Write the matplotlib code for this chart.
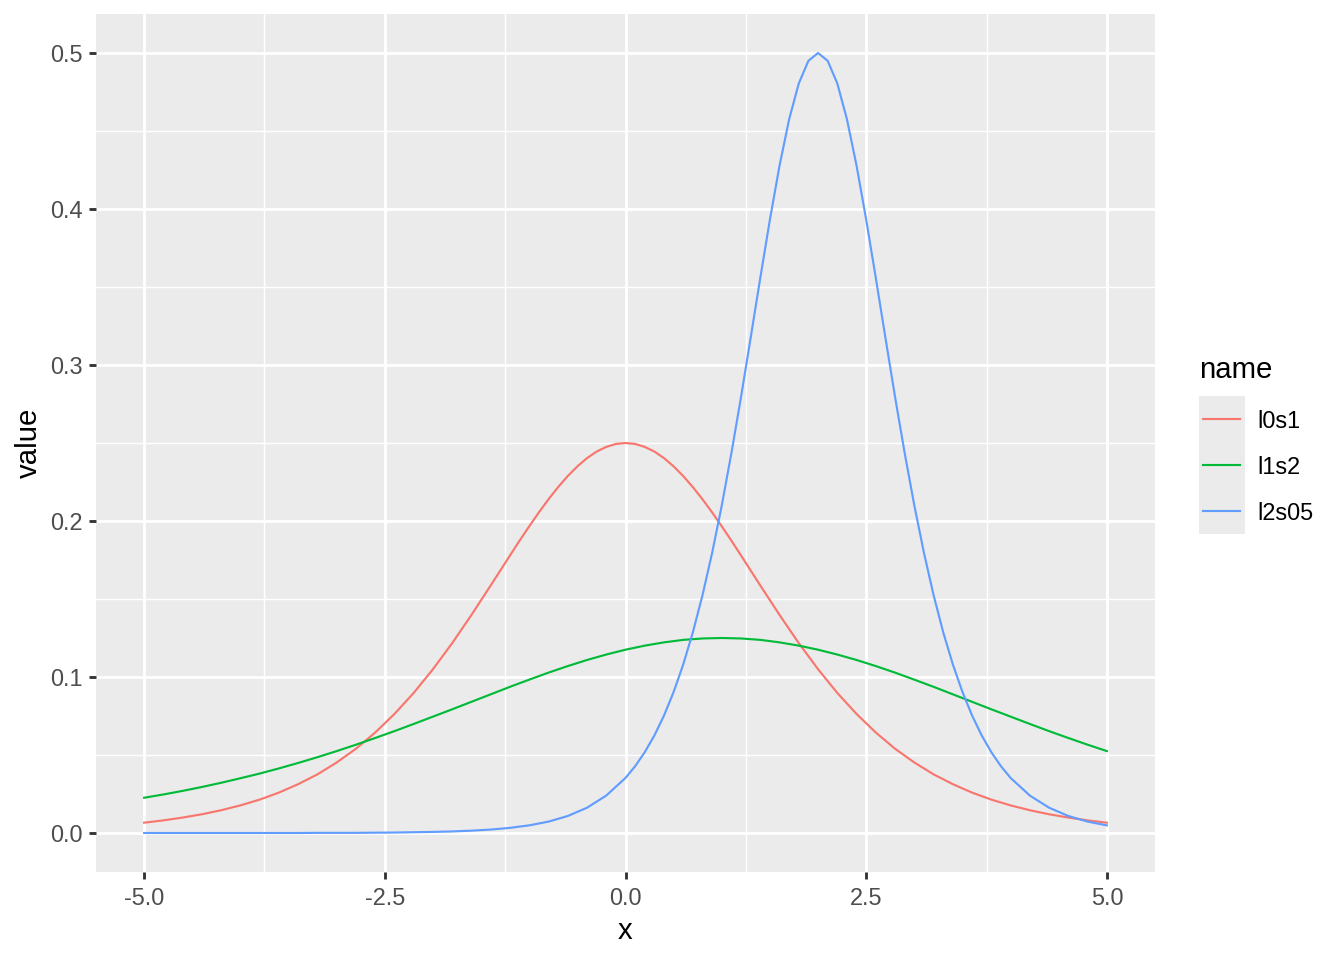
import matplotlib.pyplot as plt
from matplotlib.patches import Rectangle
from matplotlib.lines import Line2D

plt.rcParams['font.family'] = ['Liberation Sans', 'DejaVu Sans']

x_l0s1 = [-5.0, -4.8, -4.6, -4.4, -4.2, -4.0, -3.8, -3.6, -3.4, -3.2,
          -3.0, -2.8, -2.6, -2.4, -2.2, -2.0, -1.8, -1.6, -1.4, -1.2,
          -1.1, -1.0, -0.9, -0.8, -0.7, -0.6, -0.5, -0.4, -0.3, -0.2, -0.1,
          0.0, 0.1, 0.2, 0.3, 0.4, 0.5, 0.6, 0.7, 0.8, 0.9, 1.0, 1.1,
          1.2, 1.4, 1.6, 1.8, 2.0, 2.2, 2.4, 2.6, 2.8,
          3.0, 3.2, 3.4, 3.6, 3.8, 4.0, 4.2, 4.4, 4.6, 4.8, 5.0]
l0s1 = [0.0066, 0.0081, 0.0099, 0.0120, 0.0146, 0.0177, 0.0214, 0.0259, 0.0313, 0.0376,
        0.0452, 0.0540, 0.0644, 0.0763, 0.0898, 0.1050, 0.1217, 0.1398, 0.1587, 0.1779,
        0.1874, 0.1966, 0.2055, 0.2139, 0.2217, 0.2288, 0.2350, 0.2403, 0.2445, 0.2475, 0.2494,
        0.2500, 0.2494, 0.2475, 0.2445, 0.2403, 0.2350, 0.2288, 0.2217, 0.2139, 0.2055, 0.1966, 0.1874,
        0.1779, 0.1587, 0.1398, 0.1217, 0.1050, 0.0898, 0.0763, 0.0644, 0.0540,
        0.0452, 0.0376, 0.0313, 0.0259, 0.0214, 0.0177, 0.0146, 0.0120, 0.0099, 0.0081, 0.0066]

x_l1s2 = [-5.0, -4.8, -4.6, -4.4, -4.2, -4.0, -3.8, -3.6, -3.4, -3.2,
          -3.0, -2.8, -2.6, -2.4, -2.2, -2.0, -1.8, -1.6, -1.4, -1.2,
          -1.0, -0.8, -0.6, -0.4, -0.2, 0.0, 0.2, 0.4, 0.6, 0.8,
          1.0, 1.2, 1.4, 1.6, 1.8, 2.0, 2.2, 2.4, 2.6, 2.8,
          3.0, 3.2, 3.4, 3.6, 3.8, 4.0, 4.2, 4.4, 4.6, 4.8, 5.0]
l1s2 = [0.0226, 0.0247, 0.0270, 0.0295, 0.0322, 0.0351, 0.0381, 0.0414, 0.0449, 0.0486,
        0.0525, 0.0566, 0.0609, 0.0653, 0.0699, 0.0746, 0.0793, 0.0841, 0.0889, 0.0937,
        0.0983, 0.1028, 0.1070, 0.1109, 0.1144, 0.1175, 0.1201, 0.1222, 0.1238, 0.1247,
        0.1250, 0.1247, 0.1238, 0.1222, 0.1201, 0.1175, 0.1144, 0.1109, 0.1070, 0.1028,
        0.0983, 0.0937, 0.0889, 0.0841, 0.0793, 0.0746, 0.0699, 0.0653, 0.0609, 0.0566, 0.0525]

x_l2s05 = [-5.0, -4.8, -4.6, -4.4, -4.2, -4.0, -3.8, -3.6, -3.4, -3.2,
           -3.0, -2.8, -2.6, -2.4, -2.2, -2.0, -1.8, -1.6, -1.4, -1.2,
           -1.0, -0.8, -0.6, -0.4, -0.2,
           0.0, 0.1, 0.2, 0.3, 0.4, 0.5, 0.6, 0.7, 0.8, 0.9,
           1.0, 1.1, 1.2, 1.3, 1.4, 1.5, 1.6, 1.7, 1.8, 1.9,
           2.0, 2.1, 2.2, 2.3, 2.4, 2.5, 2.6, 2.7, 2.8, 2.9,
           3.0, 3.1, 3.2, 3.3, 3.4, 3.5, 3.6, 3.7, 3.8, 3.9,
           4.0, 4.2, 4.4, 4.6, 4.8, 5.0]
l2s05 = [0.0000, 0.0000, 0.0000, 0.0000, 0.0000, 0.0000, 0.0000, 0.0000, 0.0000, 0.0001,
         0.0001, 0.0001, 0.0002, 0.0003, 0.0005, 0.0007, 0.0010, 0.0015, 0.0022, 0.0033,
         0.0049, 0.0073, 0.0109, 0.0162, 0.0240,
         0.0353, 0.0428, 0.0518, 0.0625, 0.0753, 0.0904, 0.1081, 0.1287, 0.1525, 0.1796,
         0.2100, 0.2435, 0.2795, 0.3174, 0.3558, 0.3932, 0.4278, 0.4576, 0.4805, 0.4950,
         0.5000, 0.4950, 0.4805, 0.4576, 0.4278, 0.3932, 0.3558, 0.3174, 0.2795, 0.2435,
         0.2100, 0.1796, 0.1525, 0.1287, 0.1081, 0.0904, 0.0753, 0.0625, 0.0518, 0.0428,
         0.0353, 0.0240, 0.0162, 0.0109, 0.0073, 0.0049]

names = ['l0s1', 'l1s2', 'l2s05']
colors = ['#F8766D', '#00BA38', '#619CFF']
xs = [x_l0s1, x_l1s2, x_l2s05]
series = [l0s1, l1s2, l2s05]

x_ticks = [-5.0, -2.5, 0.0, 2.5, 5.0]
x_minor = [-3.75, -1.25, 1.25, 3.75]
y_ticks = [0.0, 0.1, 0.2, 0.3, 0.4, 0.5]
y_minor = [0.05, 0.15, 0.25, 0.35, 0.45]

W, H = 1344, 960
fig = plt.figure(figsize=(7, 5), dpi=192)


def fx(px):
    return px / W


def fy(py):
    return 1 - py / H


ax = fig.add_axes([fx(96), fy(872), fx(1155) - fx(96), fy(14) - fy(872)])
ax.set_facecolor('#EBEBEB')
for s in ax.spines.values():
    s.set_visible(False)

for v in x_minor:
    ax.axvline(v, color='white', lw=0.53, zorder=0)
for v in y_minor:
    ax.axhline(v, color='white', lw=0.53, zorder=0)
for v in x_ticks:
    ax.axvline(v, color='white', lw=1.07, zorder=0)
for v in y_ticks:
    ax.axhline(v, color='white', lw=1.07, zorder=0)

for name, col, xv, ys in zip(names, colors, xs, series):
    ax.plot(xv, ys, color=col, lw=0.8, label=name, zorder=2)

ax.set_xlim(-5.5, 5.5)
ax.set_ylim(-0.025, 0.525)
ax.set_xticks(x_ticks)
ax.set_xticklabels(['-5.0', '-2.5', '0.0', '2.5', '5.0'])
ax.set_yticks(y_ticks)
ax.set_yticklabels(['0.0', '0.1', '0.2', '0.3', '0.4', '0.5'])
ax.tick_params(axis='both', length=2.75, width=1.07, color='#333333',
               labelcolor='#4D4D4D', labelsize=8.8, pad=2.2)
ax.tick_params(axis='x', pad=2.8)
ax.set_xlabel('x', fontsize=11, labelpad=2.75)
ax.set_ylabel('value', fontsize=11, labelpad=2.75)

# legend drawn ggplot-style: grey key boxes, labels on white
fig.text(fx(1199), fy(370), 'name', fontsize=11, va='center', ha='left')
fig.patches.append(Rectangle((fx(1199), fy(534)), fx(1245) - fx(1199), fy(396) - fy(534),
                             transform=fig.transFigure, facecolor='#EBEBEB', edgecolor='none'))
for i, (name, col) in enumerate(zip(names, colors)):
    yc = 419 + 46 * i
    fig.lines.append(Line2D([fx(1203), fx(1240)], [fy(yc), fy(yc)], transform=fig.transFigure,
                            color=col, lw=0.8))
    fig.text(fx(1257), fy(yc + 2), name, fontsize=8.8, va='center', ha='left')

fig.savefig('out.png', dpi=192)
